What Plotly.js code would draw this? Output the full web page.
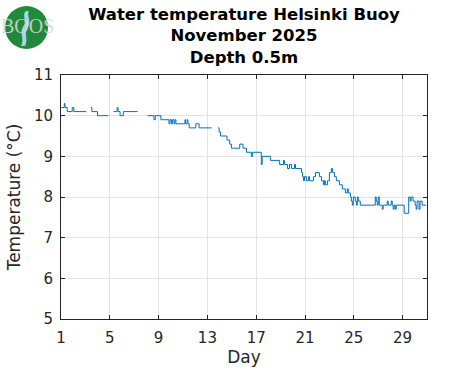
<!DOCTYPE html>
<html><head><meta charset="utf-8">
<script src="https://cdn.plot.ly/plotly-3.0.1.min.js"></script>
<style>html,body{margin:0;padding:0;background:#fff}#chart{width:471px;height:371px}</style>
</head><body><div id="chart"></div>
<script>
const titleLines = ['Water temperature Helsinki Buoy', 'November 2025', 'Depth 0.5m'];
const xTitle = 'Day';
const yTitle = 'Temperature (°C)';
const xTicks = [1, 5, 9, 13, 17, 21, 25, 29];
const yTicks = [5, 6, 7, 8, 9, 10, 11];
const logoText = 'BOOS';

// day of month (fractional), null = data gap
const day = [
  1.02, 1.27, 1.33, 1.51, 1.92, 2.05, 3.07, 3.2,
  3.45, 3.53, 3.99, 4.89, 5.1,
  5.30, 5.60, 5.68, 5.84, 6.11, 7.29, 7.6,
  8.08, 8.62, 8.73, 9.19, 9.85, 9.93, 10.05, 10.13, 10.26, 10.34, 10.42, 11.16, 11.21, 11.34, 11.40, 11.51, 12.05, 12.32, 13.34, 13.6,
  13.88, 13.96, 14.07, 14.61, 14.83, 14.97, 15.65, 15.92, 16.20, 16.60, 16.69, 17.42, 17.49, 18.16,
  18.92, 19.24, 19.33, 19.57, 19.73, 19.90, 20.14, 20.22, 20.71, 20.80, 20.88, 20.96, 21.12, 21.28, 21.37,
  21.69, 21.86, 22.18, 22.35, 22.51, 22.59, 22.67, 22.84, 23.00, 23.16, 23.25, 23.41, 23.57, 23.82,
  24.06, 24.31, 24.47, 24.55, 24.72, 24.80, 24.88, 24.96, 25.12, 25.21, 25.29, 25.37, 25.53,
  26.76, 26.84, 26.92, 27.00, 27.09, 27.33, 27.41, 27.74, 27.82, 28.07, 28.15, 28.23, 28.31, 28.40, 28.48,
  29.13, 29.50, 29.62, 29.70, 29.86, 30.03, 30.11, 30.19, 30.35, 30.43, 30.60, 30.93
];
// water temperature (°C)
const temp = [
  10.2, 10.3, 10.2, 10.1, 10.2, 10.1, 10.1, null,
  10.2, 10.1, 10.0, 10.0, null,
  10.1, 10.2, 10.1, 10.0, 10.1, 10.1, null,
  10.0, 9.9, 10.0, 9.9, 9.8, 9.9, 9.8, 9.9, 9.8, 9.9, 9.8, 9.9, 9.8, 9.9, 9.8, 9.7, 9.8, 9.7, 9.7, null,
  9.7, 9.6, 9.5, 9.4, 9.3, 9.2, 9.3, 9.2, 9.1, 9.0, 9.1, 8.8, 9.0, 8.9,
  8.8, 8.9, 8.8, 8.7, 8.8, 8.7, 8.8, 8.7, 8.6, 8.5, 8.4, 8.5, 8.4, 8.5, 8.4,
  8.5, 8.6, 8.5, 8.4, 8.3, 8.4, 8.3, 8.4, 8.6, 8.7, 8.6, 8.5, 8.4, 8.3,
  8.2, 8.1, 8.2, 8.1, 8.0, 7.9, 7.8, 8.0, 7.9, 7.8, 8.0, 7.9, 7.8,
  8.0, 7.9, 7.8, 8.0, 7.8, 7.7, 7.8, 7.9, 7.8, 7.9, 7.8, 7.7, 7.8, 7.7, 7.8,
  7.6, 8.0, 7.9, 8.0, 7.9, 7.8, 7.7, 7.9, 7.7, 7.9, 7.8, 7.8
];

const W = 471, H = 371, L = 61, R = 44, T = 75, B = 52;
const pw = W - L - R, ph = H - T - B;
const px = x => ((x - L) / pw).toFixed(4);
const py = y => ((H - B - y) / ph).toFixed(4);

const ink = '#262626';
const font = 'DejaVu Sans, sans-serif';

const lake = 'M' + px(26) + ',' + py(11) +
  ' C' + px(21) + ',' + py(15) + ' ' + px(28) + ',' + py(21) + ' ' + px(23) + ',' + py(27) +
  ' C' + px(19) + ',' + py(33) + ' ' + px(25) + ',' + py(39) + ' ' + px(21) + ',' + py(46) +
  ' L' + px(25) + ',' + py(46) +
  ' C' + px(29) + ',' + py(39) + ' ' + px(23) + ',' + py(33) + ' ' + px(28) + ',' + py(27) +
  ' C' + px(32) + ',' + py(21) + ' ' + px(26) + ',' + py(15) + ' ' + px(29) + ',' + py(11) + ' Z';

const trace = {
  x: day, y: temp, type: 'scatter', mode: 'lines',
  line: {color: '#0072BD', width: 1, shape: 'hv'},
  connectgaps: false, hoverinfo: 'skip'
};

const axisBase = {
  showline: true, linecolor: ink, linewidth: 1, mirror: 'ticks',
  ticks: 'inside', ticklen: 4, tickcolor: ink, tickwidth: 1,
  showgrid: true, gridcolor: '#e3e3e3', gridwidth: 1, zeroline: false,
  tickfont: {family: font, size: 15, color: ink}
};

const layout = {
  width: W, height: H,
  margin: {l: L, r: R, t: T, b: B, pad: 0},
  paper_bgcolor: '#fff', plot_bgcolor: '#fff',
  showlegend: false,
  title: {
    text: '<b>' + titleLines.join('</b><br><b>') + '</b>',
    font: {family: font, size: 16.5, color: '#000'},
    x: 0.5, xref: 'paper', xanchor: 'center',
    y: 1 - 20 / H, yref: 'container', yanchor: 'top'
  },
  xaxis: Object.assign({}, axisBase, {
    range: [1, 31], tickvals: xTicks, ticktext: xTicks.map(String),
    ticklabelstandoff: 5,
    title: {text: xTitle, font: {family: font, size: 17, color: ink}, standoff: 2}
  }),
  yaxis: Object.assign({}, axisBase, {
    range: [5, 11], tickvals: yTicks, ticktext: yTicks.map(String),
    ticklabelstandoff: 4,
    title: {text: yTitle, font: {family: font, size: 17, color: ink}, standoff: 8}
  }),
  shapes: [
    {type: 'circle', xref: 'paper', yref: 'paper', x0: px(5), x1: px(48), y0: py(49), y1: py(6),
     fillcolor: '#22893a', line: {width: 0}, layer: 'above'},
    {type: 'path', xref: 'paper', yref: 'paper', path: lake,
     fillcolor: '#a9d2ee', line: {width: 0}, layer: 'above'}
  ],
  annotations: [
    {text: logoText, xref: 'paper', yref: 'paper', x: px(28), y: py(26), xanchor: 'center', yanchor: 'middle',
     showarrow: false, font: {family: 'Liberation Serif, serif', size: 20, color: 'rgba(215,215,215,0.9)'}}
  ]
};

Plotly.newPlot('chart', [trace], layout, {displayModeBar: false, staticPlot: true});
</script>
</body></html>
